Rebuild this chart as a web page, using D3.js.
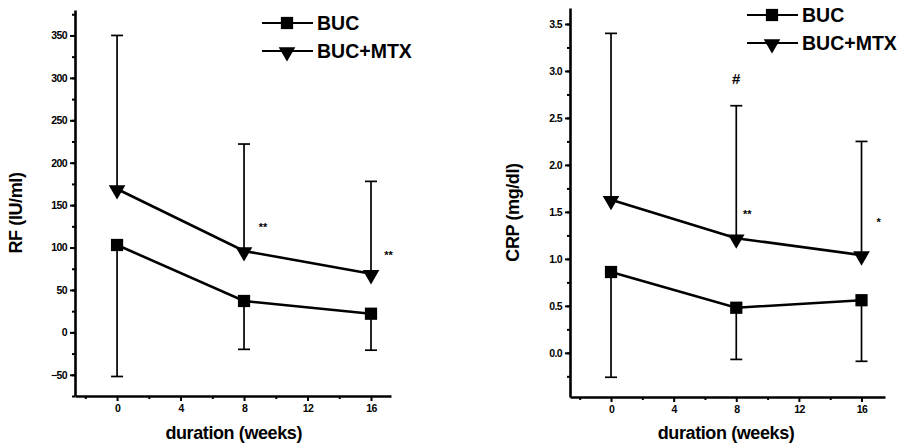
<!DOCTYPE html>
<html>
<head>
<meta charset="utf-8">
<script src="https://cdn.jsdelivr.net/npm/d3@7"></script>
<style>
	body { margin: 0; background: #fff; }
	svg { display: block; font-family: "Liberation Sans", Arial, sans-serif; }
	.tick text { font-weight: bold; font-size: 10.5px; letter-spacing: -0.6px; }
	.lab { font-weight: bold; font-size: 18px; letter-spacing: -0.4px; }
	.leg { font-weight: bold; font-size: 19.5px; }
	.note { font-weight: bold; font-size: 11px; }
</style>
</head>
<body>
<div id="chart"></div>
<script>
const weeks = [0, 8, 16],
	seriesNames = ['BUC', 'BUC+MTX'],
	// RF (IU/ml)
	rfBuc = [103, 37, 22],
	rfBucSdLow = [-52, -20, -21],
	rfMtx = [169, 96, 69],
	rfMtxSdHigh = [350, 222, 178],
	rfTicks = [-50, 0, 50, 100, 150, 200, 250, 300, 350],
	rfNotes = [{w: 9.2, v: 120, t: '**'}, {w: 17.1, v: 87, t: '**'}],
	// CRP (mg/dl)
	crpBuc = [0.86, 0.48, 0.56],
	crpBucSdLow = [-0.26, -0.07, -0.09],
	crpMtx = [1.63, 1.22, 1.04],
	crpMtxSdHigh = [3.40, 2.63, 2.25],
	crpTicks = [0, 0.5, 1, 1.5, 2, 2.5, 3, 3.5],
	crpNotes = [{w: 8.0, v: 2.86, t: '#', big: true}, {w: 8.7, v: 1.43, t: '**'}, {w: 17.1, v: 1.35, t: '*'}],
	weekTicks = [0, 4, 8, 12, 16];

const svg = d3.select('#chart')
	.append('svg')
	.attr('width', 900)
	.attr('height', 446);

const makePanel = (opt) => {
	let g = svg.append('g');

	let x = d3.scaleLinear().domain(opt.xDomain).range([opt.left, opt.right]);
	let y = d3.scaleLinear().domain(opt.yDomain).range([opt.bottom, opt.top]);

	// minor ticks
	let xMinor = d3.range(-2, 18, 2).filter(d => weekTicks.indexOf(d) < 0 && d >= opt.xDomain[0]);
	let yMinor = d3.range(opt.yMinorStart, opt.yDomain[1], opt.yMinorStep);

	g.append('g')
		.attr('transform', `translate(0,${opt.bottom})`)
		.call(d3.axisBottom(x).tickValues(xMinor).tickSize(3).tickFormat(''))
		.call(a => a.select('.domain').remove());
	g.append('g')
		.attr('transform', `translate(${opt.left},0)`)
		.call(d3.axisLeft(y).tickValues(yMinor).tickSize(3).tickFormat(''))
		.call(a => a.select('.domain').remove());

	let xAxis = d3.axisBottom(x).tickValues(weekTicks).tickSizeInner(5).tickSizeOuter(0).tickPadding(4);
	let yAxis = d3.axisLeft(y).tickValues(opt.yTicks).tickSizeInner(5).tickSizeOuter(0).tickPadding(3).tickFormat(opt.fmt);

	g.append('g')
		.attr('transform', `translate(0,${opt.bottom})`)
		.call(xAxis);
	g.append('g')
		.attr('transform', `translate(${opt.left},0)`)
		.call(yAxis);

	g.selectAll('.domain').attr('stroke-width', 2.6);
	g.selectAll('.tick line').attr('stroke-width', 2);

	// error bars
	let bars = [];
	weeks.forEach((w, i) => {
		bars.push({w: w, a: opt.mtx[i], b: opt.mtxHigh[i]});
		bars.push({w: w, a: opt.buc[i], b: opt.bucLow[i]});
	});
	g.selectAll('.err')
		.data(bars)
		.enter()
		.append('line')
		.attr('x1', d => x(d.w)).attr('x2', d => x(d.w))
		.attr('y1', d => y(d.a)).attr('y2', d => y(d.b))
		.attr('stroke', '#000').attr('stroke-width', 1.7);
	g.selectAll('.cap')
		.data(bars)
		.enter()
		.append('line')
		.attr('x1', d => x(d.w) - 6).attr('x2', d => x(d.w) + 6)
		.attr('y1', d => y(d.b)).attr('y2', d => y(d.b))
		.attr('stroke', '#000').attr('stroke-width', 1.7);

	// series lines
	let line = d3.line().x((d, i) => x(weeks[i])).y(d => y(d));
	[opt.buc, opt.mtx].forEach(s => {
		g.append('path')
			.attr('d', line(s))
			.attr('fill', 'none')
			.attr('stroke', '#000')
			.attr('stroke-width', 2.6);
	});

	let sq = d3.symbol().type(d3.symbolSquare).size(150);
	let tri = d3.symbol().type(d3.symbolTriangle).size(120);

	g.selectAll('.sq')
		.data(opt.buc)
		.enter()
		.append('path')
		.attr('d', sq)
		.attr('transform', (d, i) => `translate(${x(weeks[i])},${y(d)})`);
	g.selectAll('.tri')
		.data(opt.mtx)
		.enter()
		.append('path')
		.attr('d', tri)
		.attr('transform', (d, i) => `translate(${x(weeks[i])},${y(d) + 1}) rotate(180)`);

	// significance marks
	g.selectAll('.note')
		.data(opt.notes)
		.enter()
		.append('text')
		.attr('class', 'note')
		.attr('x', d => x(d.w))
		.attr('y', d => y(d.v))
		.attr('text-anchor', 'middle')
		.style('font-size', d => d.big ? '15px' : null)
		.text(d => d.t);

	// legend
	let symbols = [sq, tri];
	seriesNames.forEach((n, i) => {
		let ly = opt.legY + i * 28;
		g.append('line')
			.attr('x1', opt.legX).attr('x2', opt.legX + 51)
			.attr('y1', ly).attr('y2', ly)
			.attr('stroke', '#000').attr('stroke-width', 2);
		g.append('path')
			.attr('d', symbols[i])
			.attr('transform', `translate(${opt.legX + 25},${ly + (i ? 1 : 0)})` + (i ? ' rotate(180)' : ''));
		g.append('text')
			.attr('class', 'leg')
			.attr('x', opt.legX + 55)
			.attr('y', ly + 7)
			.text(n);
	});

	// axis titles
	g.append('text')
		.attr('class', 'lab')
		.attr('text-anchor', 'middle')
		.attr('x', (x(-2.6) + x(17.3)) / 2)
		.attr('y', 439)
		.text('duration (weeks)');
	g.append('text')
		.attr('class', 'lab')
		.attr('text-anchor', 'middle')
		.attr('transform', `translate(${opt.labX},${(opt.top + opt.bottom) / 2 + 10}) rotate(-90)`)
		.text(opt.yLabel);
};

makePanel({
	left: 75, right: 391, top: 10, bottom: 396,
	xDomain: [-2.65, 17.26], yDomain: [-75, 380],
	yTicks: rfTicks, yMinorStart: -75, yMinorStep: 25, fmt: d3.format('d'),
	buc: rfBuc, bucLow: rfBucSdLow, mtx: rfMtx, mtxHigh: rfMtxSdHigh,
	notes: rfNotes, legX: 262, legY: 23, labX: 22, yLabel: 'RF (IU/ml)'
});

makePanel({
	left: 570, right: 885, top: 8, bottom: 397,
	xDomain: [-2.62, 17.5], yDomain: [-0.47, 3.67],
	yTicks: crpTicks, yMinorStart: -0.25, yMinorStep: 0.25, fmt: d3.format('.1f'),
	buc: crpBuc, bucLow: crpBucSdLow, mtx: crpMtx, mtxHigh: crpMtxSdHigh,
	notes: crpNotes, legX: 747, legY: 15, labX: 519, yLabel: 'CRP (mg/dl)'
});
</script>
</body>
</html>
